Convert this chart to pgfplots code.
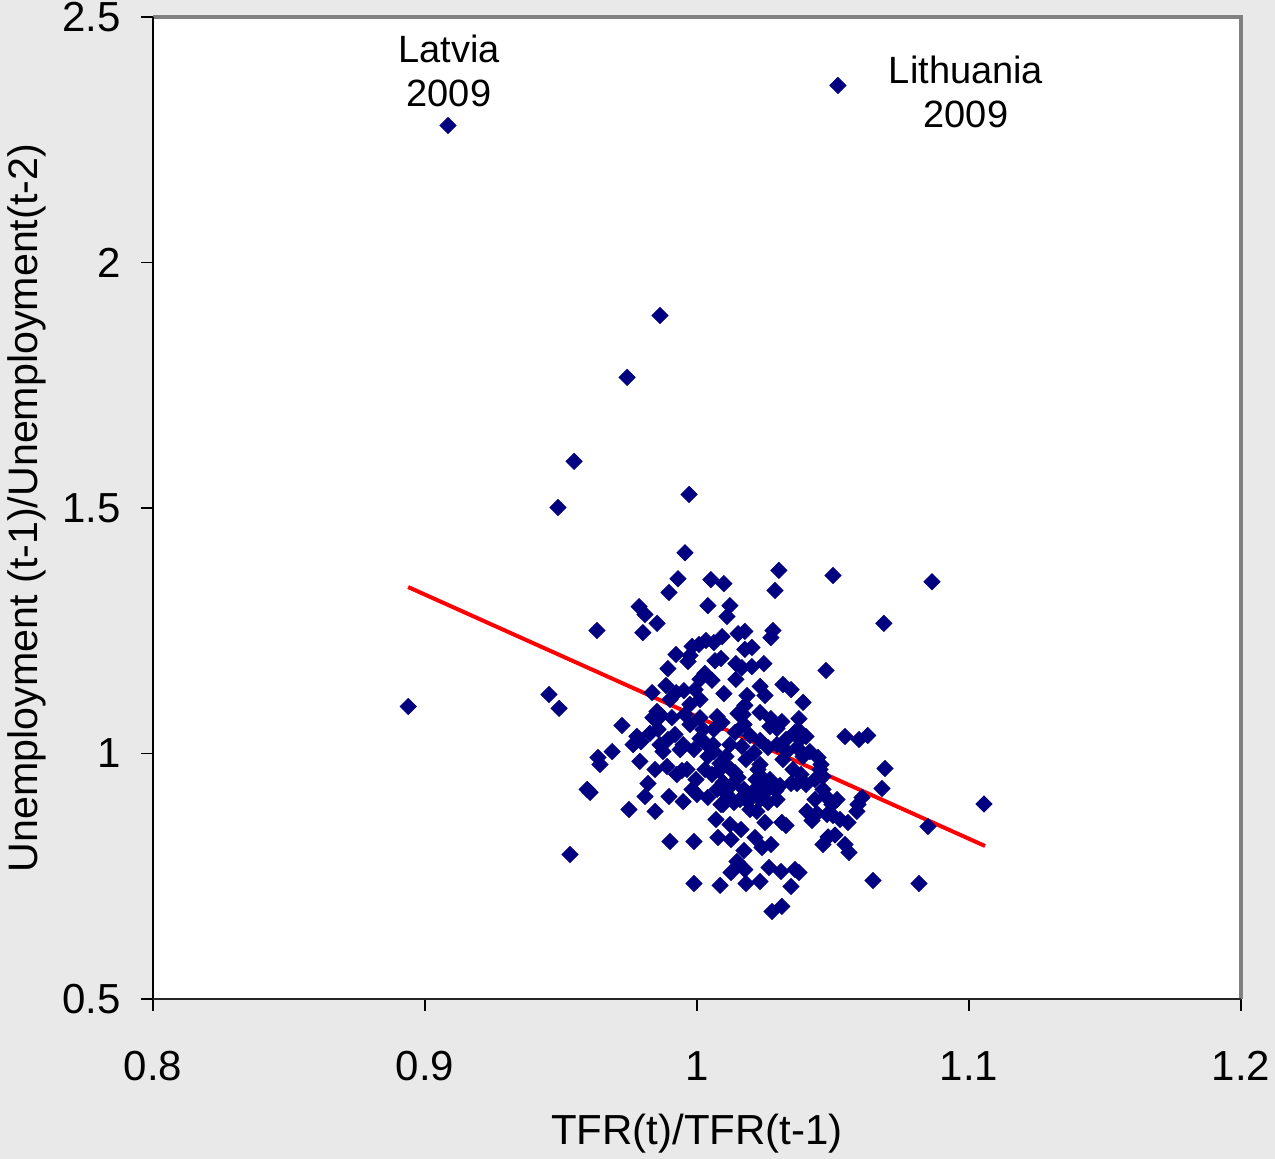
\documentclass[border=0pt]{standalone}
\usepackage{pgfplots}
\pgfplotsset{compat=1.18}
\usepackage{fontspec}
\setmainfont{Liberation Sans}
\definecolor{bgc}{RGB}{233,233,233}
\definecolor{navy}{RGB}{0,0,128}
\begin{document}
\fontsize{19}{22}\selectfont
\begin{tikzpicture}
\fill[bgc] (-76.5pt,-80pt) rectangle (561pt,499.5pt);
\begin{axis}[
  at={(0,0)}, anchor=south west,
  scale only axis, width=544pt, height=491pt,
  xmin=0.8, xmax=1.2, ymin=0.5, ymax=2.5,
  xtick={0.8,0.9,1,1.1,1.2}, ytick={0.5,1,1.5,2,2.5},
  xticklabels={0.8,0.9,1,1.1,1.2}, yticklabels={0.5,1,1.5,2,2.5},
  xtick pos=lower, ytick pos=left,
  /pgf/number format/assume math mode=true,
  axis background/.style={fill=white},
  axis line style={draw=none},
  tick align=outside,
  x tick style={black, line width=0.8pt}, y tick style={black, line width=0.8pt},
  major tick length=6pt,
  tick label style={font=\fontsize{21}{24}\selectfont},
  xticklabel style={anchor=base, yshift=-35pt},
  yticklabel style={anchor=east, inner sep=0pt, xshift=-10pt},
  every axis x label/.style={at={(axis description cs:0.5,0)}, anchor=base, yshift=-73pt, font=\fontsize{21}{24}\selectfont},
  every axis y label/.style={at={(axis description cs:0,0.5)}, xshift=-57.5pt, rotate=90, anchor=base, font=\fontsize{20.6}{24}\selectfont},
  xlabel={TFR(t)/TFR(t-1)},
  ylabel={Unemployment (t-1)/Unemployment(t-2)},
  clip=false,
]
\draw[gray!100, line width=1.8pt] (axis cs:0.8,2.5) -- (axis cs:1.2,2.5) -- (axis cs:1.2,0.5);
\draw[black, line width=1pt] (axis cs:0.8,0.5) -- (axis cs:0.8,2.5);
\draw[black!85, line width=1.3pt] (axis cs:0.8,0.5) -- (axis cs:1.2,0.5);
\addplot[only marks, mark=square*, mark size=2.85pt, mark options={rotate=45, fill=navy, draw=navy}] table {
x y
0.9085 2.279
1.0518 2.3605
0.9864 1.892
0.9743 1.766
0.9548 1.595
0.9489 1.501
0.9971 1.5275
0.8938 1.0957
0.9456 1.120
0.9493 1.092
0.9956 1.409
1.0301 1.373
1.0500 1.3625
1.0864 1.350
1.0687 1.265
0.9632 1.2505
1.0287 1.332
0.9930 1.356
0.9897 1.328
1.0051 1.354
1.0099 1.346
1.0040 1.301
0.9787 1.299
0.9809 1.283
0.9853 1.265
0.9801 1.246
1.0110 1.279
1.0121 1.301
1.0151 1.244
1.0176 1.2485
1.0279 1.2505
1.0272 1.236
0.9923 1.2016
0.9982 1.218
1.0007 1.222
1.0033 1.230
1.0062 1.226
1.0092 1.238
1.0066 1.189
1.0088 1.1935
1.0176 1.212
1.0202 1.216
1.0143 1.183
1.0165 1.175
1.0202 1.177
1.0246 1.183
0.9893 1.173
0.9886 1.1385
0.9923 1.124
0.9952 1.128
0.9835 1.124
0.9853 1.0855
0.9838 1.073
0.9868 1.077
0.9901 1.110
0.9974 1.100
0.9993 1.130
1.0011 1.151
1.0029 1.163
1.0055 1.149
1.0316 1.1405
1.0346 1.130
1.0390 1.104
1.0474 1.169
1.0375 1.071
1.0312 1.065
1.0272 1.071
1.0232 1.1365
1.0250 1.118
1.0232 1.0835
1.0176 1.098
1.0151 1.0815
1.0140 1.043
1.0173 1.059
1.0092 1.063
1.0074 1.075
1.0062 1.049
1.0022 1.049
1.0011 1.073
0.9974 1.059
0.9956 1.0795
0.9919 1.0387
0.9893 1.0285
0.9949 1.018
0.9989 1.008
1.0011 1.0305
1.0033 1.020
0.9724 1.057
0.9779 1.035
0.9765 1.018
0.9794 1.024
0.9857 1.049
0.9688 1.004
0.9636 0.992
0.9643 0.9776
0.9596 0.9267
0.9607 0.9206
0.9533 0.7943
0.9750 0.886
0.9846 0.882
0.9809 0.9124
0.9820 0.9389
0.9790 0.9837
0.9846 0.9674
0.9890 0.9735
0.9926 0.9572
0.9945 0.9654
0.9897 0.9124
0.9949 0.9022
0.9982 0.9267
1.0000 0.9165
1.0029 0.9674
1.0055 0.9572
1.0081 0.9654
0.9996 0.947
0.9901 0.8208
0.9989 0.8208
0.9989 0.7352
1.0085 0.7312
1.0176 0.7637
1.0147 0.780
1.0173 0.8024
1.0239 0.8085
1.0272 0.8147
1.0232 0.7393
1.0276 0.6782
1.0312 0.6884
1.0265 0.7678
1.0309 0.7597
1.0360 0.7637
1.0375 0.7576
1.0125 0.8248
1.0077 0.8289
1.0121 0.8554
1.0070 0.8656
1.0096 0.8961
1.0136 0.9002
1.0173 0.9267
1.0206 0.9226
1.0195 0.886
1.0220 0.882
1.0232 0.9063
1.0254 0.9226
1.0217 0.947
1.0224 0.9674
1.0268 0.947
1.0305 0.9348
1.0346 0.9389
1.0353 0.9674
1.0316 0.9878
1.0331 1.004
1.0368 1.012
1.0379 1.0285
1.0360 1.043
1.0327 1.0285
1.0294 1.018
1.0261 1.012
1.0232 1.0265
1.0195 1.0367
1.0165 1.0143
1.0121 1.018
1.0107 0.9939
1.0085 0.9796
1.0125 0.9674
1.0151 0.9511
1.0180 0.9878
1.0210 1.002
1.0040 0.9939
1.0059 1.018
1.0074 0.9267
1.0110 0.9165
1.0129 0.9369
1.0140 0.9613
1.0158 0.9063
1.0187 0.9022
1.0261 0.9002
1.0294 0.9063
1.0312 0.8595
1.0327 0.8534
1.0368 0.9389
1.0401 0.9369
1.0434 0.947
1.0452 0.9674
1.0456 0.9776
1.0390 0.9939
1.0415 1.004
1.0463 0.9267
1.0474 0.9124
1.0496 0.8961
1.0515 0.9063
1.0434 0.9063
1.0441 0.8778
1.0423 0.8635
1.0478 0.8758
1.0526 0.8656
1.0500 0.8737
1.0507 0.834
1.0544 0.8146
1.0463 0.8146
1.0555 0.8595
1.0588 0.882
1.0592 0.8961
1.0607 0.9104
1.0544 1.0346
1.0596 1.0285
1.0628 1.0367
1.0691 0.9695
1.0680 0.9287
1.0849 0.8513
1.1055 0.897
1.0816 0.7352
1.0647 0.7414
1.0559 0.7984
1.0482 0.830
1.0463 0.9532
1.0445 0.9918
1.0382 0.9572
1.0404 0.882
1.0235 0.9532
1.0290 0.9246
1.0125 0.7576
1.0180 0.7352
1.0346 0.7291
1.0250 0.8595
1.0213 0.8289
1.0162 0.8452
1.0062 1.004
1.0169 1.0794
1.0184 1.118
1.0268 1.055
1.0294 1.051
1.0375 1.047
1.0401 1.0346
1.0099 1.122
1.0143 1.151
0.9974 1.1996
0.9967 1.1874
1.0011 1.110
0.9908 1.073
0.9938 1.008
0.9864 1.018
0.9827 1.041
0.9875 1.004
0.9963 0.9674
1.0096 0.941
1.0040 0.9104
1.0088 0.8961
1.0239 0.9308
1.0103 0.9776
1.0232 0.9776
};
\addplot[red, line width=2pt] coordinates {(0.8938,1.339) (1.1059,0.8116)};
\node[align=center, font=\fontsize{19}{22}\selectfont] at (axis cs:0.9088,2.391) {Latvia\\2009};
\node[align=center, font=\fontsize{19}{22}\selectfont] at (axis cs:1.0989,2.348) {Lithuania\\2009};
\end{axis}
\pgfresetboundingbox
\useasboundingbox (-76.5pt,-80pt) rectangle (561pt,499.5pt);
\end{tikzpicture}
\end{document}
